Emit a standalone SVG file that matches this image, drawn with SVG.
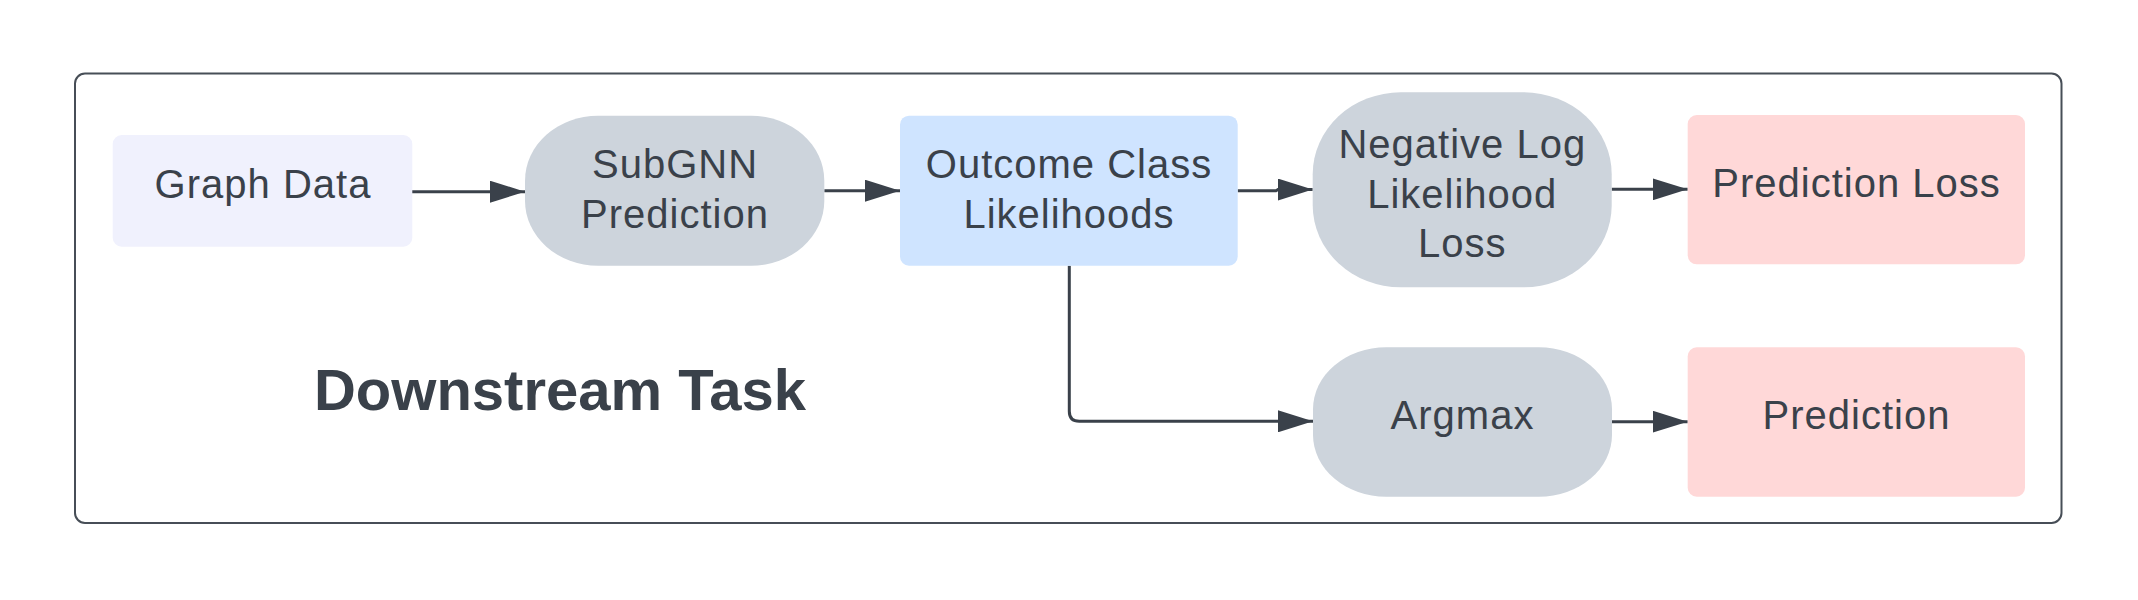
<svg xmlns="http://www.w3.org/2000/svg" width="2138" height="600" viewBox="0 0 2138 600">
  <style>
    .lbl { font-family: "Liberation Sans", Arial, sans-serif; font-size: 40px; fill: #3a414a; text-anchor: middle; letter-spacing: 1px; }
    .title { font-family: "Liberation Sans", Arial, sans-serif; font-size: 58px; font-weight: bold; fill: #3a414a; text-anchor: middle; }
    .conn { fill: none; stroke: #3a414a; stroke-width: 3; marker-end: url(#arrow); }
    .gray { fill: #cdd4dc; }
    .blue { fill: #cfe4ff; }
    .pink { fill: #ffd8d8; }
    .lav { fill: #f0f1fd; }
  </style>
  <defs>
    <marker id="arrow" markerUnits="userSpaceOnUse" markerWidth="35" markerHeight="22" refX="35" refY="11" orient="auto">
      <path d="M0,0 L35,11 L0,22 Z" fill="#3a414a"/>
    </marker>
  </defs>
  <rect width="2138" height="600" fill="#ffffff"/>

  <g id="frame">
    <rect x="75" y="73.5" width="1986.5" height="449.5" rx="10" fill="#ffffff" stroke="#474e57" stroke-width="2"/>
    <text class="title" x="560" y="410">Downstream Task</text>
  </g>

  <g id="connectors">
    <path class="conn" d="M412 191.7 H525"/>
    <path class="conn" d="M824.3 190.7 H900"/>
    <path class="conn" d="M1237.7 190.7 H1276 L1278 189.5 H1312.7"/>
    <path class="conn" d="M1611.7 189.3 H1687.7"/>
    <path class="conn" d="M1069.3 265.7 V411.3 Q1069.3 421.3 1079.3 421.3 H1313"/>
    <path class="conn" d="M1612 421.7 H1687.7"/>
  </g>

  <g id="graph-data">
    <rect class="lav" x="112.7" y="135" width="299.6" height="111.7" rx="9"/>
    <text class="lbl" x="263" y="198.3">Graph Data</text>
  </g>

  <g id="subgnn-prediction">
    <rect class="gray" x="525" y="115.7" width="299.3" height="150" rx="73" ry="65"/>
    <text class="lbl" x="675" y="178.3">SubGNN</text>
    <text class="lbl" x="675" y="228.3">Prediction</text>
  </g>

  <g id="outcome-class-likelihoods">
    <rect class="blue" x="900" y="115.7" width="337.7" height="150" rx="9"/>
    <text class="lbl" x="1069" y="178.3">Outcome Class</text>
    <text class="lbl" x="1069" y="228.3">Likelihoods</text>
  </g>

  <g id="negative-log-likelihood-loss">
    <rect class="gray" x="1312.7" y="92.3" width="299" height="195" rx="88" ry="82"/>
    <text class="lbl" x="1462.3" y="158.3">Negative Log</text>
    <text class="lbl" x="1462.3" y="207.7">Likelihood</text>
    <text class="lbl" x="1462.3" y="257.3">Loss</text>
  </g>

  <g id="prediction-loss">
    <rect class="pink" x="1687.7" y="115" width="337.3" height="149.3" rx="9"/>
    <text class="lbl" x="1856.5" y="197.3">Prediction Loss</text>
  </g>

  <g id="argmax">
    <rect class="gray" x="1313" y="347.3" width="299" height="149.4" rx="73" ry="62"/>
    <text class="lbl" x="1462.5" y="429">Argmax</text>
  </g>

  <g id="prediction">
    <rect class="pink" x="1687.7" y="347.3" width="337.3" height="149.4" rx="9"/>
    <text class="lbl" x="1856.5" y="429.3">Prediction</text>
  </g>
</svg>
